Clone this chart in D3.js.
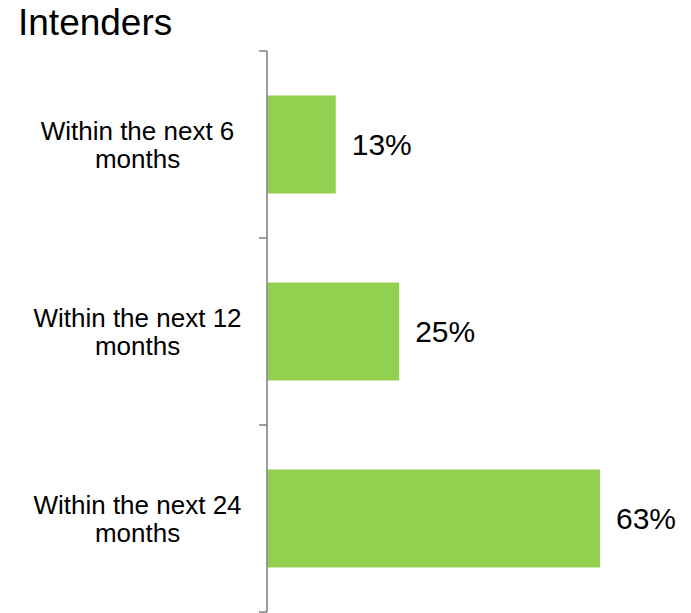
<!DOCTYPE html>
<html lang="en">
	<head>
		<meta charset="utf-8">
		<style type="text/css">
			html, body {
				width: 100%;
				height: 100%;
				padding: 0;
				margin: 0;
				background: #fff;
			}
			text {
				font-family: Arial, "Liberation Sans", Helvetica, sans-serif;
				fill: #000;
			}
		</style>
	</head>
	<body>
		<svg></svg>
	<script src="https://cdn.jsdelivr.net/npm/d3@7"></script>
	<script>
		const width = 691
		const height = 613

		// data
		const categories = [
			["Within the next 6", "months"],
			["Within the next 12", "months"],
			["Within the next 24", "months"]
		]
		const values = [13, 25, 63]
		const valueLabels = ["13%", "25%", "63%"]

		const svg = d3.select("svg")
			.attr("width", width)
			.attr("height", height)

		svg.append("text")
			.attr("x", 18)
			.attr("y", 35)
			.style("font-size", "37px")
			.text("Intenders")

		const x = d3.scaleLinear()
			.domain([0, 70])
			.range([267, 267 + 370])

		const y = d3.scaleBand()
			.domain(d3.range(categories.length))
			.range([51, 612])
			.paddingInner(0.476)
			.paddingOuter(0.238)

		// bars
		svg.selectAll("rect.bar")
			.data(values)
			.enter().append("rect")
			.attr("class", "bar")
			.attr("x", x(0))
			.attr("y", (d, i) => y(i))
			.attr("width", d => x(d) - x(0))
			.attr("height", y.bandwidth())
			.style("fill", "#92d050")

		// axis line + ticks at band boundaries
		const axis = svg.append("g")
		axis.append("line")
			.attr("x1", x(0)).attr("x2", x(0))
			.attr("y1", y.range()[0]).attr("y2", y.range()[1])
			.style("stroke", "#8c8c8c")
			.style("stroke-width", 1.7)

		const tickYs = d3.range(categories.length + 1).map(i => y.range()[0] + i * y.step())
		axis.selectAll("line.tick")
			.data(tickYs)
			.enter().append("line")
			.attr("class", "tick")
			.attr("x1", x(0) - 8).attr("x2", x(0))
			.attr("y1", d => d).attr("y2", d => d)
			.style("stroke", "#8c8c8c")
			.style("stroke-width", 1.7)

		// category labels
		const cat = svg.selectAll("text.cat")
			.data(categories)
			.enter().append("text")
			.attr("class", "cat")
			.attr("text-anchor", "middle")
			.style("font-size", "26px")
			.attr("transform", (d, i) => `translate(137.5, ${y(i) + y.bandwidth() / 2})`)

		cat.selectAll("tspan")
			.data(d => d)
			.enter().append("tspan")
			.attr("x", 0)
			.attr("y", (d, j) => j === 0 ? -5 : 23)
			.text(d => d)

		// value labels
		svg.selectAll("text.val")
			.data(values)
			.enter().append("text")
			.attr("class", "val")
			.attr("x", d => x(d) + 16)
			.attr("y", (d, i) => y(i) + y.bandwidth() / 2 + 10)
			.style("font-size", "30px")
			.text((d, i) => valueLabels[i])
	</script>
	</body>
</html>
